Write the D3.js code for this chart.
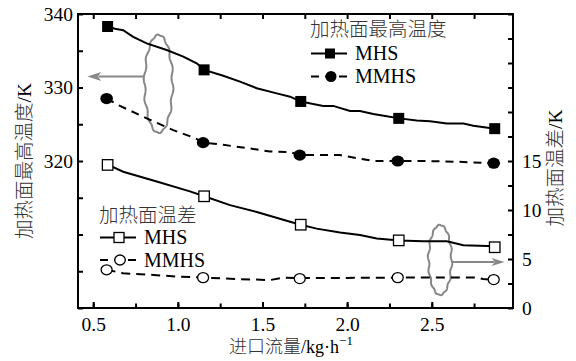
<!DOCTYPE html>
<html><head><meta charset="utf-8">
<script src="https://cdn.jsdelivr.net/npm/d3@7"></script>
<style>
body{margin:0;background:#fff}
</style>
</head><body><svg id="c" width="576" height="361"></svg>
<script>
// ---- data ----
const flowMajor = [0.5, 1.0, 1.5, 2.0, 2.5];
const flowMinor = [0.5, 0.75, 1.0, 1.25, 1.5, 1.75, 2.0, 2.25, 2.5, 2.75];
const tempTicks = [300, 305, 310, 315, 320, 325, 330, 335, 340];
const tempLabels = [320, 330, 340];
const diffTicks = [0, 2.5, 5, 7.5, 10, 12.5, 15, 17.5, 20, 22.5, 25, 27.5, 30];
const diffLabels = [0, 5, 10, 15];

const flow = [0.585, 1.155, 1.726, 2.305, 2.872];
const mhsMax = [338.3, 332.4, 328.1, 325.8, 324.4];
const mmhsMax = [328.5, 322.5, 320.8, 320.0, 319.7];
const mhsDiff = [14.6, 11.4, 8.5, 6.9, 6.2];
const mmhsDiff = [3.9, 3.1, 3.0, 3.1, 2.9];

// curves
const mhsMaxCurveX = [0.589,0.628,0.677,0.736,0.816,0.934,1.032,1.111,1.156,1.268,1.367,1.466,1.584,1.663,1.726,1.859,1.918,2.017,2.076,2.155,2.234,2.309,2.411,2.490,2.589,2.687,2.746,2.874];
const mhsMaxCurveY = [338.3,338.0,337.8,336.9,336.0,335.1,334.2,333.3,332.4,331.6,330.8,329.9,329.2,328.75,328.1,327.5,327.5,326.8,326.8,326.4,326.1,325.8,325.5,325.4,325.1,325.1,324.8,324.4];
const mmhsMaxCurveX = [0.579,0.658,0.816,0.973,1.091,1.156,1.268,1.426,1.544,1.663,1.726,1.958,2.155,2.297,2.450,2.648,2.868];
const mmhsMaxCurveY = [328.5,327.5,325.8,324.2,323.2,322.5,322.2,321.7,321.3,321.2,320.8,320.8,320.0,320.0,320.0,319.9,319.7];
const mhsDiffCurveX = [0.589,0.677,0.875,1.071,1.156,1.308,1.466,1.663,1.726,1.820,1.958,2.076,2.175,2.309,2.450,2.589,2.687,2.874];
const mhsDiffCurveY = [14.6,13.9,12.9,11.9,11.4,10.5,9.8,8.8,8.5,8.1,7.7,7.45,7.1,6.9,6.8,6.8,6.4,6.3];
const mmhsDiffCurveX = [0.579,0.676,0.875,0.993,1.156,1.367,1.544,1.621,1.726,2.297,2.766,2.803,2.868];
const mmhsDiffCurveY = [3.9,3.55,3.35,3.2,3.1,2.95,2.85,3.1,3.05,3.1,3.1,2.95,2.9];

// ---- layout ----
const SERIF = '"Liberation Serif"';
const CJK = '"Noto Sans CJK SC"';
const svg = d3.select("#c");
const L = 78, R = 513, T = 14, B = 308;
const x = d3.scaleLinear().domain([0.41, 2.98]).range([L, R]);
const yL = d3.scaleLinear().domain([300, 340]).range([B, T]);
const yR = d3.scaleLinear().domain([0, 30]).range([B, T]);
const FS = 19.5;

function serif(sel) { return sel.style("font-family", SERIF).style("fill", "#000"); }
function cjk(sel) { return sel.style("font-family", CJK).style("font-weight", "300").style("fill", "#333"); }

function styleAxis(g) {
  g.attr("font-family", null).attr("font-size", null);
  g.select(".domain").remove();
  g.selectAll("line").attr("stroke", "#000").attr("stroke-width", 2);
  g.selectAll("text").style("font-size", FS + "px").call(serif);
}
// bottom
svg.append("g").attr("transform", `translate(0,${B})`)
  .call(d3.axisBottom(x).tickValues(flowMinor).tickSize(-4.5).tickFormat(""))
  .call(styleAxis);
svg.append("g").attr("transform", `translate(0,${B})`)
  .call(d3.axisBottom(x).tickValues(flowMajor).tickSize(-6).tickPadding(9.5).tickFormat(d3.format(".1f")))
  .call(styleAxis);
// top
svg.append("g").attr("transform", `translate(0,${T})`)
  .call(d3.axisTop(x).tickValues(flowMinor).tickSize(-5).tickFormat(""))
  .call(styleAxis);
// left
svg.append("g").attr("transform", `translate(${L},0)`)
  .call(d3.axisLeft(yL).tickValues(tempTicks).tickSize(-5).tickFormat(""))
  .call(styleAxis);
svg.append("g").attr("transform", `translate(${L},0)`)
  .call(d3.axisLeft(yL).tickValues(tempLabels).tickSize(0).tickPadding(5).tickFormat(d3.format("d")))
  .call(styleAxis);
// right
svg.append("g").attr("transform", `translate(${R},0)`)
  .call(d3.axisRight(yR).tickValues(diffTicks).tickSize(-5).tickFormat(""))
  .call(styleAxis);
svg.append("g").attr("transform", `translate(${R},0)`)
  .call(d3.axisRight(yR).tickValues(diffLabels).tickSize(0).tickPadding(9).tickFormat(d3.format("d")))
  .call(styleAxis);
// frame
svg.append("rect").attr("x", L).attr("y", T).attr("width", R - L).attr("height", B - T)
  .attr("fill", "none").attr("stroke", "#000").attr("stroke-width", 2);

// ---- annotations (gray wavy ellipses + arrows) ----
function wavyEllipse(cx, cy, rx, ry) {
  const pts = [];
  const n = 240;
  for (let i = 0; i <= n; i++) {
    const t = i / n * 2 * Math.PI;
    pts.push([cx + rx * Math.cos(t) * (1 + 0.07 * Math.sin(14 * t)), cy + ry * Math.sin(t) * (1 + 0.01 * Math.sin(14 * t))]);
  }
  return d3.line()(pts);
}
const gray = "#878787";
function arrow(x1, y, x2, head, hw) {
  const dir = Math.sign(x2 - x1);
  svg.append("line").attr("x1", x1).attr("y1", y).attr("x2", x2 - dir * head * 0.8).attr("y2", y)
    .attr("stroke", gray).attr("stroke-width", 2);
  svg.append("path").attr("d", `M${x2},${y}L${x2 - dir * head},${y - hw}L${x2 - dir * head * 0.75},${y}L${x2 - dir * head},${y + hw}Z`)
    .attr("fill", gray);
}
const annL = {cx: 0.886, cy: 330.5, tipX: 0.465, ay: 331.5};
const annR = {cx: 2.549, cy: 4.9, tipX: 2.93, ay: 4.7};
svg.append("path").attr("d", wavyEllipse(x(annL.cx), yL(annL.cy), 14, 49))
  .attr("fill", "none").attr("stroke", gray).attr("stroke-width", 2);
arrow(x(annL.cx) - 14, yL(annL.ay), x(annL.tipX), 14, 4.5);
svg.append("path").attr("d", wavyEllipse(x(annR.cx), yR(annR.cy), 11.5, 35))
  .attr("fill", "none").attr("stroke", gray).attr("stroke-width", 2);
arrow(x(annR.cx) + 11.5, yR(annR.ay), x(annR.tipX), 13, 4);

// ---- curves ----
const lineL = d3.line().x(d => x(d[0])).y(d => yL(d[1]));
const lineR = d3.line().x(d => x(d[0])).y(d => yR(d[1]));
const zip = (a, b) => a.map((v, i) => [v, b[i]]);
svg.append("path").attr("d", lineL(zip(mhsMaxCurveX, mhsMaxCurveY)))
  .attr("fill", "none").attr("stroke", "#000").attr("stroke-width", 2);
svg.append("path").attr("d", lineL(zip(mmhsMaxCurveX, mmhsMaxCurveY)))
  .attr("fill", "none").attr("stroke", "#000").attr("stroke-width", 2).attr("stroke-dasharray", "8,6");
svg.append("path").attr("d", lineR(zip(mhsDiffCurveX, mhsDiffCurveY)))
  .attr("fill", "none").attr("stroke", "#000").attr("stroke-width", 2);
svg.append("path").attr("d", lineR(zip(mmhsDiffCurveX, mmhsDiffCurveY)))
  .attr("fill", "none").attr("stroke", "#000").attr("stroke-width", 2).attr("stroke-dasharray", "9,6");

// ---- markers ----
function square(g, cx, cy, s, filled) {
  g.append("rect").attr("x", cx - s / 2).attr("y", cy - s / 2).attr("width", s).attr("height", s)
    .attr("fill", filled ? "#000" : "#fff").attr("stroke", "#000").attr("stroke-width", filled ? 0 : 1.3);
}
function circ(g, cx, cy, rx, ry, filled) {
  g.append("ellipse").attr("cx", cx).attr("cy", cy).attr("rx", rx).attr("ry", ry)
    .attr("fill", filled ? "#000" : "#fff").attr("stroke", "#000").attr("stroke-width", filled ? 0 : 1.3);
}
const mg = svg.append("g");
flow.forEach((f, i) => {
  square(mg, x(f), yL(mhsMax[i]), 11, true);
  circ(mg, x(f) - 1, yL(mmhsMax[i]), 6.3, 5.6, true);
  square(mg, x(f), yR(mhsDiff[i]), 10.5, false);
  circ(mg, x(f) - 1, yR(mmhsDiff[i]), 5.5, 5, false);
});

// ---- legends ----
function legend(x0, titleY, rows, filled) {
  svg.append("text").attr("x", x0).attr("y", titleY).style("font-size", FS + "px")
    .call(cjk).text(rows.title);
  rows.items.forEach((it, i) => {
    const yy = it.y;
    svg.append("line").attr("x1", x0 + 1).attr("x2", x0 + 37).attr("y1", yy).attr("y2", yy)
      .attr("stroke", "#000").attr("stroke-width", 2).attr("stroke-dasharray", it.dash ? "8,6" : null);
    if (it.shape === "sq") square(svg, x0 + 20, yy, 10, filled);
    else circ(svg, x0 + 21, yy, filled ? 5.5 : 5.3, filled ? 5.5 : 5, filled);
    svg.append("text").attr("x", x0 + 45).attr("y", yy + 6.7).style("font-size", (FS + 0.5) + "px")
      .call(serif).text(it.label);
  });
}
legend(310, 35.5, {title: "加热面最高温度", items: [
  {y: 53.5, label: "MHS", shape: "sq", dash: false},
  {y: 76.5, label: "MMHS", shape: "ci", dash: true}]}, true);
legend(99, 222, {title: "加热面温差", items: [
  {y: 237.5, label: "MHS", shape: "sq", dash: false},
  {y: 260, label: "MMHS", shape: "ci", dash: true}]}, false);

// ---- axis titles ----
const xt = svg.append("text").attr("x", 291).attr("y", 352.5).attr("text-anchor", "middle").style("font-size", "18px");
xt.append("tspan").call(cjk).text("进口流量");
xt.append("tspan").call(serif).text("/kg·h");
xt.append("tspan").call(serif).style("font-size", "13px").attr("dy", -8).text("−1");

svg.append("text").attr("transform", "translate(31,161) rotate(-90)").attr("text-anchor", "middle")
  .style("font-size", FS + "px")
  .call(t => { t.append("tspan").call(cjk).text("加热面最高温度"); t.append("tspan").call(serif).text("/K"); });
svg.append("text").attr("transform", "translate(562,168) rotate(-90)").attr("text-anchor", "middle")
  .style("font-size", FS + "px")
  .call(t => { t.append("tspan").call(cjk).text("加热面温差"); t.append("tspan").call(serif).text("/K"); });
</script>
</body></html>
